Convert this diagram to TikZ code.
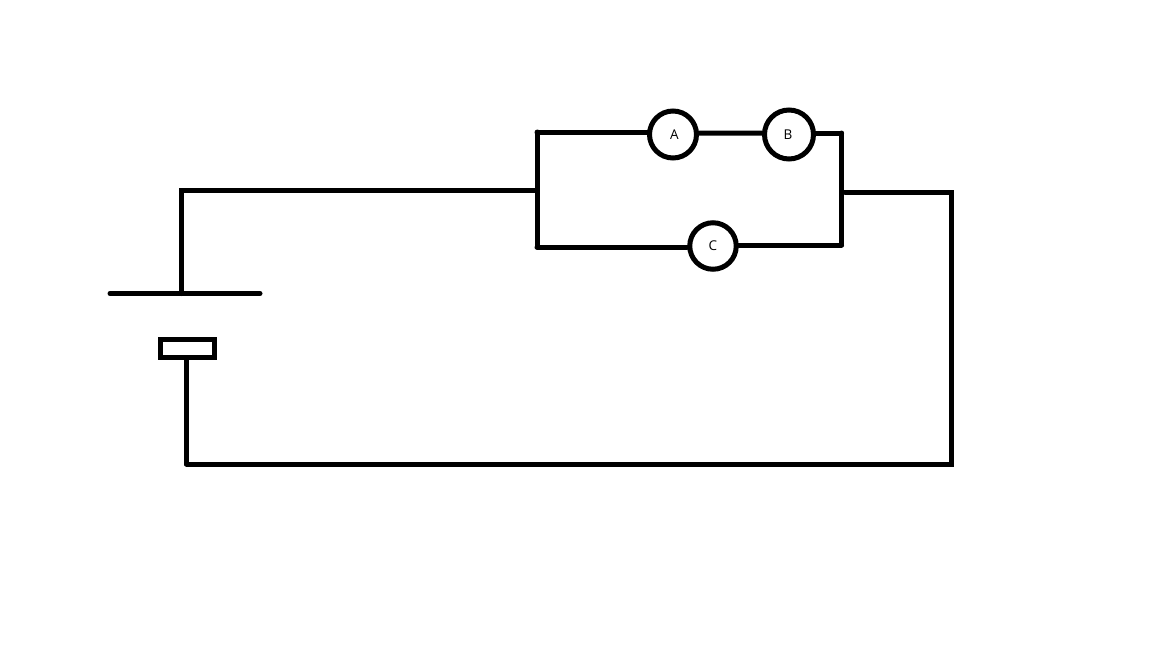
\documentclass[tikz,border=0pt]{standalone}
\usepackage{fontspec}
\setmainfont{Open Sans}
\tikzset{
  wire/.style={line width=5pt,line cap=round,line join=miter,black},
  lamp/.style={circle,draw=black,line width=5pt,fill=white,minimum size=47pt,inner sep=0pt,font=\fontsize{13.5}{15}\selectfont,text=black},
  plate/.style={line width=5pt,line cap=round,black},
  cell/.style={rectangle,draw=black,line width=5pt,fill=white,minimum width=54pt,minimum height=18pt,inner sep=0pt}
}
\begin{document}
\begin{tikzpicture}[x=1pt,y=-1pt]
\useasboundingbox (0,0) rectangle (1152,648);
\coordinate (plateL) at (110,293.5);
\coordinate (plateR) at (260,293.5);
\coordinate (plateM) at (181,293.5);
\coordinate (tl) at (181,190);
\coordinate (jl) at (537,190);
\coordinate (pTL) at (537,132);
\coordinate (pBL) at (537,247);
\coordinate (pTR) at (841.5,133);
\coordinate (pBR) at (841.5,245);
\coordinate (jr) at (845,192);
\coordinate (tr) at (951,192);
\coordinate (br) at (951,464);
\coordinate (bl) at (186.5,464);
\node[cell] (cellbox) at (187,348) {};
\node[lamp] (A) at (673,134.5) {\hspace*{3pt}A};
\node[lamp,minimum size=49pt] (B) at (789,134.5) {B\hspace*{2pt}};
\node[lamp,minimum size=46.5pt] (C) at (713,246) {C};
\draw[plate] (plateL) -- (plateR);
\draw[wire] (plateM) -- (tl) -- (jl);
\draw[wire] (pTL) -- (pBL);
\draw[wire] (pTR) -- (pBR);
\draw[wire] (jr) -- (tr) -- (br) -- (bl);
\draw[wire] (bl) -- (cellbox.south -| bl);
\draw[wire] (pTL) -- (pTL -| A.west);
\draw[wire] (A.3) -- (B.177);
\draw[wire] (B.east |- pTR) -- (pTR);
\draw[wire] (pBL) -- (pBL -| C.west);
\draw[wire] (C.east |- pBR) -- (pBR);
\end{tikzpicture}
\end{document}
